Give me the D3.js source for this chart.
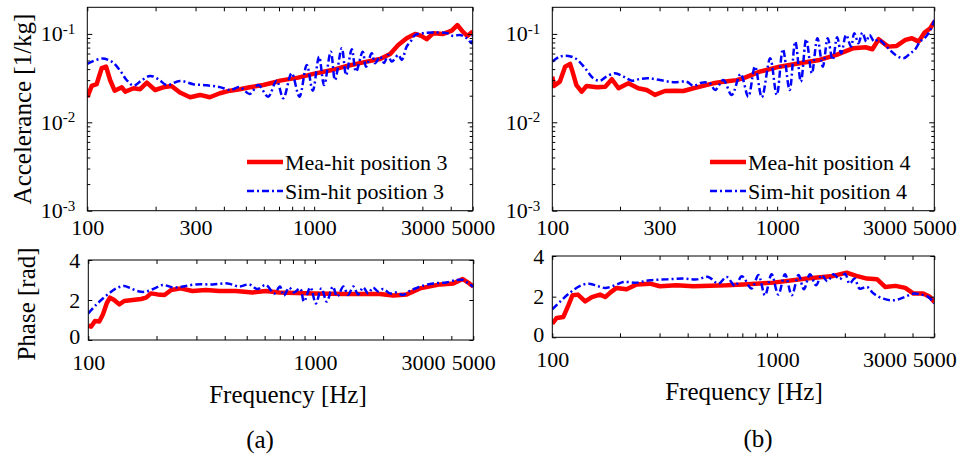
<!DOCTYPE html>
<html>
<head>
<meta charset="utf-8">
<script src="https://cdn.jsdelivr.net/npm/d3@7"></script>
<style>
body { margin: 0; background: #fff; }
svg { font-family: "Liberation Serif", "Times New Roman", serif; }
</style>
</head>
<body>
<script>
var w = 959;
var h = 460;

// frequency ticks
var freqTicks = [100, 200, 300, 400, 500, 600, 700, 800, 900, 1000, 2000, 3000, 4000, 5000];
var freqLabelsTop = [100, 300, 1000, 3000, 5000];
var freqLabelsBottom = [100, 1000, 3000, 5000];
var accLabels = [1e-3, 1e-2, 1e-1];
var accMinor = [2e-3, 3e-3, 4e-3, 5e-3, 6e-3, 7e-3, 8e-3, 9e-3,
                2e-2, 3e-2, 4e-2, 5e-2, 6e-2, 7e-2, 8e-2, 9e-2];
var phaseLabels = [0, 2, 4];

// (a) accelerance, hit position 3  [Hz, 1/kg]
var magMea3 = [[100,0.0192],[104.6,0.0258],[110,0.0271],[115.7,0.0409],[121,0.0426],[126,0.0301],[132,0.0228],
  [142,0.0249],[147,0.0222],[160,0.0243],[171,0.0237],[183,0.0281],[199,0.0232],[216,0.0249],[235,0.0258],
  [256,0.0217],[284,0.0192],[314,0.0204],[347,0.0192],[384,0.0213],[426,0.0228],[470,0.0237],[520,0.0249],
  [597,0.0264],[683,0.0288],[707,0.0296],[850,0.032],[992,0.0353],[1200,0.039],[1395,0.0434],[1706,0.0486],
  [1953,0.052],[2163,0.0594],[2348,0.075],[2558,0.0894],[2785,0.1],[2968,0.0949],[3132,0.0871],[3355,0.102],
  [3710,0.1],[4042,0.109],[4277,0.126],[4520,0.106],[4730,0.0949],[4900,0.102],[5000,0.106]];
var magSim3 = [[100,0.0458],[115.7,0.0526],[128,0.0486],[139,0.039],[149,0.0301],[160,0.026],[174,0.030],
  [189,0.0335],[206,0.0307],[224,0.0264],[256,0.0294],[293,0.027],[336,0.0262],[384,0.025],[426,0.0232],
  [470,0.025],[520,0.0209],[567,0.0264],[627,0.0195],[683,0.0296],[731,0.0187],[796,0.0359],[861,0.0195],
  [928,0.0446],[986,0.0228],[1051,0.0553],[1106,0.0264],[1184,0.063],[1236,0.0301],[1324,0.0689],[1383,0.0343],
  [1465,0.0671],[1530,0.0374],[1637,0.063],[1693,0.0426],[1795,0.0604],[1855,0.0466],[1953,0.0553],[2033,0.047],
  [2117,0.0578],[2198,0.0486],[2350,0.0578],[2433,0.0508],[2558,0.0718],[2692,0.0855],[2785,0.0974],[3030,0.102],
  [3342,0.1035],[3843,0.102],[4094,0.0949],[4397,0.0974],[4710,0.0894],[4951,0.0785],[5000,0.097]];

// (b) accelerance, hit position 4
var magMea4 = [[100,0.0329],[101.7,0.0258],[108,0.0288],[114,0.0426],[120,0.0458],[123,0.0374],[128,0.0264],
  [135,0.0222],[142,0.0258],[158,0.0249],[172,0.0253],[184,0.0307],[197,0.0243],[218,0.0276],[241,0.0243],
  [263,0.0232],[286,0.0204],[317,0.0226],[351,0.0228],[383,0.0226],[424,0.0243],[469,0.0258],[519,0.0276],
  [576,0.0288],[661,0.030],[719,0.032],[837,0.0374],[1025,0.0426],[1256,0.0466],[1542,0.0508],[1837,0.0578],
  [2182,0.0689],[2473,0.0707],[2653,0.0671],[2827,0.0871],[3118,0.0718],[3402,0.0732],[3719,0.0855],
  [3976,0.0894],[4259,0.0818],[4525,0.1035],[4800,0.116],[5000,0.138]];
var magSim4 = [[100,0.0486],[108,0.0553],[118,0.0564],[128,0.052],[140,0.0409],[152,0.0315],[163,0.0296],
  [174,0.0329],[190,0.0359],[207,0.0329],[226,0.0296],[245,0.0309],[267,0.0315],[301,0.0301],[345,0.0284],
  [396,0.0288],[424,0.0258],[462,0.0281],[502,0.0276],[530,0.0232],[576,0.0301],[628,0.0204],[688,0.0352],
  [744,0.0195],[797,0.0426],[855,0.0192],[931,0.053],[996,0.0204],[1061,0.0671],[1136,0.0232],[1204,0.0818],
  [1275,0.0288],[1347,0.0871],[1427,0.0359],[1510,0.0894],[1596,0.0426],[1679,0.0894],[1765,0.0508],
  [1848,0.0917],[1928,0.0604],[2026,0.0974],[2131,0.0718],[2204,0.102],[2300,0.0785],[2393,0.1035],
  [2493,0.0818],[2575,0.0974],[2707,0.0818],[2826,0.0871],[3063,0.0718],[3363,0.0578],[3650,0.053],
  [3910,0.0604],[4094,0.0659],[4319,0.0818],[4525,0.0894],[4800,0.11],[5000,0.144]];

// (a) phase [rad]
var phaseMea3 = [[100,0.72],[103,0.67],[107,0.95],[111.8,0.92],[116,1.28],[120.5,1.83],[124.6,2.12],[130,2.0],
  [137,1.78],[144,1.95],[157,2.0],[171,2.05],[180,2.12],[189,2.33],[202,2.28],[217,2.25],[232,2.5],[256,2.58],
  [288,2.45],[330,2.5],[379,2.45],[448,2.45],[531,2.38],[607,2.45],[696,2.38],[984,2.33],[1381,2.3],[1937,2.3],
  [2218,2.22],[2543,2.28],[2909,2.58],[3565,2.78],[4080,2.83],[4490,3.05],[4800,2.83],[5000,2.67]];
var phaseSim3 = [[100,1.33],[108,1.75],[120,2.22],[133,2.58],[144,2.7],[154,2.58],[168,2.42],[180,2.42],
  [196,2.58],[213,2.75],[236,2.63],[261,2.67],[298,2.78],[354,2.78],[412,2.83],[464,2.67],[512,2.78],[558,2.55],
  [607,2.75],[662,2.33],[701,2.67],[729,2.22],[770,2.62],[808,2.38],[860,2.58],[895,1.92],[955,2.63],[1010,1.83],
  [1068,2.58],[1128,1.92],[1199,2.67],[1254,2.17],[1336,2.67],[1401,2.25],[1477,2.67],[1553,2.28],[1634,2.63],
  [1718,2.33],[1806,2.62],[1903,2.42],[2001,2.55],[2144,2.33],[2288,2.38],[2445,2.25],[2617,2.45],[2909,2.67],
  [3330,2.83],[3808,2.88],[4220,3.0],[4510,3.0],[4760,2.83],[5000,2.67]];

// (b) phase [rad]
var phaseMea4 = [[100,0.67],[104.6,0.95],[112,1.0],[118,1.58],[123,2.07],[130,2.1],[140,1.77],[150,1.98],
  [163,2.1],[172,1.98],[181,2.2],[193,2.43],[214,2.36],[237,2.6],[272,2.64],[301,2.51],[357,2.56],[424,2.51],
  [502,2.54],[596,2.56],[707,2.6],[963,2.69],[1354,2.89],[1781,3.02],[2036,3.18],[2250,3.02],[2508,2.89],
  [2780,2.86],[3023,2.48],[3360,2.53],[3715,2.43],[4040,2.15],[4464,2.15],[4780,1.99],[5000,1.74]];
var phaseSim4 = [[100,1.38],[108,1.74],[120,2.2],[133,2.53],[145,2.64],[158,2.53],[172,2.43],[190,2.56],
  [207,2.72],[237,2.69],[272,2.81],[323,2.85],[383,2.89],[439,2.85],[494,2.97],[548,2.64],[596,2.97],[650,2.53],
  [697,3.0],[770,2.4],[825,3.06],[883,2.07],[945,3.1],[1012,2.1],[1084,3.1],[1162,2.07],[1245,3.06],[1315,2.36],
  [1400,3.1],[1489,2.56],[1577,3.06],[1672,2.76],[1781,3.1],[1896,2.86],[2004,3.13],[2100,2.64],[2211,2.89],
  [2325,2.4],[2508,2.48],[2685,2.15],[2970,1.9],[3290,1.82],[3635,1.95],[4040,2.15],[4365,2.1],[4700,1.99],
  [5000,1.66]];

var serif = '"Liberation Serif", "Times New Roman", serif';
var red = "#ff0000";
var blue = "#0000ff";
var dash = "7,3,2,3";

var svg = d3.select("body")
      .append("svg")
      .attr("width", w)
      .attr("height", h);

function styleAxis(g, size) {
  g.attr("font-family", serif).attr("font-size", size);
  g.select(".domain").remove();
  g.selectAll(".tick line").attr("stroke", "#000");
}

function drawLines(g, x, y, mea, sim, id) {
  svg.append("clipPath").attr("id", id)
    .append("rect")
    .attr("x", x.range()[0]).attr("y", y.range()[1])
    .attr("width", x.range()[1] - x.range()[0])
    .attr("height", y.range()[0] - y.range()[1]);

  var line = d3.line()
    .x(function(d) { return x(d[0]); })
    .y(function(d) { return y(d[1]); });
  var smooth = d3.line()
    .curve(d3.curveCatmullRom.alpha(0.5))
    .x(function(d) { return x(d[0]); })
    .y(function(d) { return y(d[1]); });

  var lg = g.append("g").attr("clip-path", "url(#" + id + ")");
  lg.append("path").datum(mea)
    .attr("d", line)
    .attr("fill", "none")
    .attr("stroke", red)
    .attr("stroke-width", 4.5)
    .attr("stroke-linejoin", "round");
  lg.append("path").datum(sim)
    .attr("d", smooth)
    .attr("fill", "none")
    .attr("stroke", blue)
    .attr("stroke-width", 2.5)
    .attr("stroke-dasharray", dash);
}

function freqAxes(g, x, top, bottom, labels, pad) {
  var b = g.append("g").attr("transform", "translate(0," + bottom + ")")
    .call(d3.axisBottom(x).tickValues(freqTicks).tickSize(-4).tickFormat(""));
  styleAxis(b, 22);
  var t = g.append("g").attr("transform", "translate(0," + top + ")")
    .call(d3.axisTop(x).tickValues(freqTicks).tickSize(-4).tickFormat(""));
  styleAxis(t, 22);
  var l = g.append("g").attr("transform", "translate(0," + bottom + ")")
    .call(d3.axisBottom(x).tickValues(labels).tickSize(0).tickPadding(pad).tickFormat(d3.format("d")));
  styleAxis(l, 22);
}

function frame(g, x, y) {
  g.append("rect")
    .attr("x", x.range()[0]).attr("y", y.range()[1])
    .attr("width", x.range()[1] - x.range()[0])
    .attr("height", y.range()[0] - y.range()[1])
    .attr("fill", "none")
    .attr("stroke", "#000")
    .attr("stroke-width", 1);
}

function magPanel(left, right, top, bottom, mea, sim, names, legX, id) {
  var g = svg.append("g");
  var x = d3.scaleLog().domain([100, 5000]).range([left, right]);
  var y = d3.scaleLog().domain([1e-3, 0.2]).range([bottom, top]);

  drawLines(g, x, y, mea, sim, id);

  freqAxes(g, x, top, bottom, freqLabelsTop, 9);

  var yl = g.append("g").attr("transform", "translate(" + left + ",0)")
    .call(d3.axisLeft(y).tickValues(accMinor).tickSize(-3).tickFormat(""));
  styleAxis(yl, 22);
  var yr = g.append("g").attr("transform", "translate(" + right + ",0)")
    .call(d3.axisRight(y).tickValues(accMinor).tickSize(-3).tickFormat(""));
  styleAxis(yr, 22);
  var yr2 = g.append("g").attr("transform", "translate(" + right + ",0)")
    .call(d3.axisRight(y).tickValues(accLabels).tickSize(-5).tickFormat(""));
  styleAxis(yr2, 22);
  var ym = g.append("g").attr("transform", "translate(" + left + ",0)")
    .call(d3.axisLeft(y).tickValues(accLabels).tickSize(-5).tickPadding(12));
  styleAxis(ym, 22);
  ym.selectAll(".tick text").each(function(d) {
    var t = d3.select(this).text("");
    t.append("tspan").text("10");
    t.append("tspan").attr("dy", "-0.5em").attr("font-size", 15)
      .text("-" + Math.abs(Math.round(Math.log10(d))));
  });

  frame(g, x, y);

  // legend
  var lgd = g.append("g");
  lgd.append("line").attr("x1", legX).attr("x2", legX + 36).attr("y1", 162).attr("y2", 162)
    .attr("stroke", red).attr("stroke-width", 4.5);
  lgd.append("text").attr("x", legX + 38).attr("y", 170)
    .attr("font-size", 22).text(names[0]);
  lgd.append("line").attr("x1", legX).attr("x2", legX + 36).attr("y1", 191).attr("y2", 191)
    .attr("stroke", blue).attr("stroke-width", 2.5).attr("stroke-dasharray", dash);
  lgd.append("text").attr("x", legX + 38).attr("y", 199)
    .attr("font-size", 22).text(names[1]);
}

function phasePanel(left, right, top, bottom, mea, sim, id, pad) {
  var g = svg.append("g");
  var x = d3.scaleLog().domain([100, 5000]).range([left, right]);
  var y = d3.scaleLinear().domain([0, 4]).range([bottom, top]);

  drawLines(g, x, y, mea, sim, id);

  freqAxes(g, x, top, bottom, freqLabelsBottom, pad);

  var yl = g.append("g").attr("transform", "translate(" + left + ",0)")
    .call(d3.axisLeft(y).tickValues(phaseLabels).tickSize(-4).tickPadding(8).tickFormat(d3.format("d")));
  styleAxis(yl, 22);
  // lift the "0" a little so it clears the frequency labels below
  yl.selectAll(".tick text").attr("dy", function(d) { return d === 0 ? "0.18em" : "0.32em"; });
  var yr = g.append("g").attr("transform", "translate(" + right + ",0)")
    .call(d3.axisRight(y).tickValues(phaseLabels).tickSize(-4).tickFormat(""));
  styleAxis(yr, 22);

  frame(g, x, y);
}

magPanel(87.3, 472.7, 7.3, 210.7, magMea3, magSim3, ["Mea-hit position 3", "Sim-hit position 3"], 247, "ca");
magPanel(552.3, 934.3, 7.3, 210.7, magMea4, magSim4, ["Mea-hit position 4", "Sim-hit position 4"], 710, "cb");
phasePanel(88.3, 473.3, 260, 340, phaseMea3, phaseSim3, "cc", 14);
phasePanel(552.3, 934.3, 256, 337.3, phaseMea4, phaseSim4, "cd", 14);

// titles
svg.append("text")
  .attr("transform", "translate(23,109) rotate(-90)")
  .attr("dy", "0.33em")
  .attr("text-anchor", "middle")
  .attr("font-size", 25)
  .text("Accelerance [1/kg]");

svg.append("text")
  .attr("transform", "translate(27,304) rotate(-90)")
  .attr("dy", "0.33em")
  .attr("text-anchor", "middle")
  .attr("font-size", 25)
  .text("Phase [rad]");

svg.append("text")
  .attr("x", 288).attr("y", 403)
  .attr("text-anchor", "middle")
  .attr("font-size", 25)
  .text("Frequency [Hz]");

svg.append("text")
  .attr("x", 744).attr("y", 400)
  .attr("text-anchor", "middle")
  .attr("font-size", 25)
  .text("Frequency [Hz]");

svg.append("text")
  .attr("x", 260).attr("y", 448)
  .attr("text-anchor", "middle")
  .attr("font-size", 25)
  .text("(a)");

svg.append("text")
  .attr("x", 758).attr("y", 447)
  .attr("text-anchor", "middle")
  .attr("font-size", 25)
  .text("(b)");
</script>
</body>
</html>
